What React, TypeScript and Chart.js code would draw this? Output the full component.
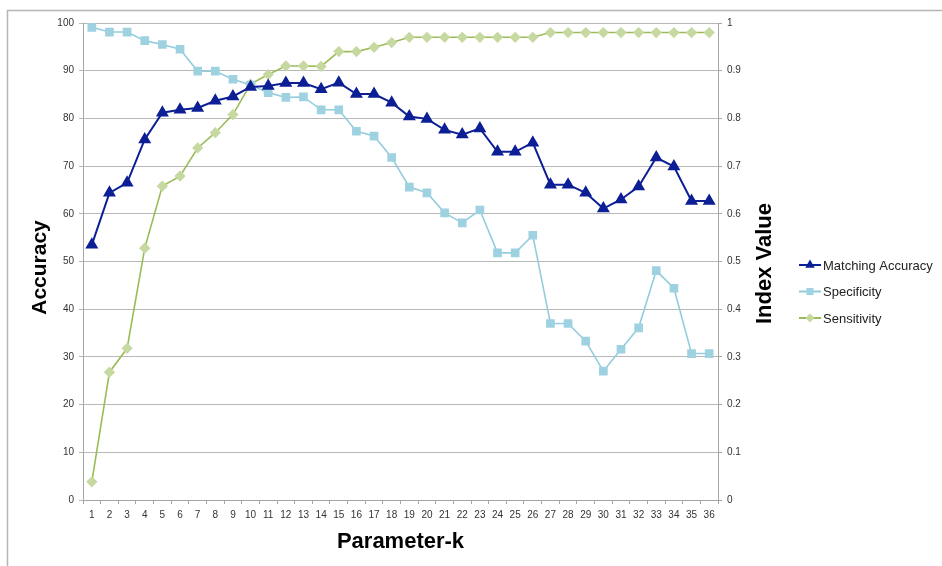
import React, { useEffect, useRef } from "react";
import { Chart, registerables } from "chart.js";

Chart.register(...registerables);

const categories: string[] = Array.from({ length: 36 }, (_, i) => String(i + 1));

const matchingAccuracy: number[] = [
  53.5, 64.4, 66.5, 75.6, 81.2, 81.8, 82.2, 83.7, 84.6, 86.6, 86.8, 87.4,
  87.4, 86.1, 87.5, 85.1, 85.1, 83.3, 80.4, 79.9, 77.6, 76.6, 77.9, 73.0,
  73.0, 74.9, 66.1, 66.1, 64.4, 61.1, 63.0, 65.7, 71.8, 69.9, 62.7, 62.7,
];

const specificity: number[] = [
  0.991, 0.981, 0.981, 0.963, 0.955, 0.945, 0.899, 0.899, 0.882, 0.87, 0.854,
  0.844, 0.845, 0.818, 0.818, 0.773, 0.763, 0.718, 0.656, 0.644, 0.602, 0.581,
  0.608, 0.518, 0.518, 0.555, 0.37, 0.37, 0.333, 0.27, 0.316, 0.361, 0.481,
  0.444, 0.307, 0.307,
];

const sensitivity: number[] = [
  0.038, 0.268, 0.318, 0.528, 0.658, 0.679, 0.738, 0.77, 0.808, 0.872, 0.892,
  0.91, 0.91, 0.909, 0.94, 0.94, 0.949, 0.959, 0.97, 0.97, 0.97, 0.97, 0.97,
  0.97, 0.97, 0.97, 0.98, 0.98, 0.98, 0.98, 0.98, 0.98, 0.98, 0.98, 0.98, 0.98,
];

const leftTitle = "Accuracy";
const rightTitle = "Index Value";
const xTitle = "Parameter-k";

const FONT = "'Liberation Sans', Arial, sans-serif";

function drawMarker(ctx: CanvasRenderingContext2D, style: string, r: number, x: number, y: number) {
  ctx.beginPath();
  if (style === "triangle") {
    ctx.moveTo(x, y - r);
    ctx.lineTo(x + r * 0.866, y + r * 0.5);
    ctx.lineTo(x - r * 0.866, y + r * 0.5);
    ctx.closePath();
  } else if (style === "rect") {
    const s = r * Math.SQRT1_2;
    ctx.rect(x - s, y - s, 2 * s, 2 * s);
  } else {
    ctx.moveTo(x, y - r);
    ctx.lineTo(x + r, y);
    ctx.lineTo(x, y + r);
    ctx.lineTo(x - r, y);
    ctx.closePath();
  }
  ctx.fill();
}

const decorPlugin = {
  id: "decor",
  beforeDraw(chart: any) {
    const ctx = chart.ctx;
    ctx.save();
    ctx.strokeStyle = "#b5b5b5";
    ctx.lineWidth = 1.5;
    ctx.beginPath();
    ctx.moveTo(7.5, 566);
    ctx.lineTo(7.5, 10.5);
    ctx.lineTo(942, 10.5);
    ctx.stroke();
    ctx.restore();
  },
  afterDraw(chart: any) {
    const ctx = chart.ctx;
    const area = chart.chartArea;
    ctx.save();
    ctx.fillStyle = "#000";
    ctx.font = `bold 22px ${FONT}`;
    ctx.textAlign = "center";
    ctx.textBaseline = "middle";
    ctx.fillText(xTitle, (area.left + area.right) / 2, 542);
    ctx.save();
    ctx.font = `bold 21px ${FONT}`;
    ctx.translate(40, (area.top + area.bottom) / 2 + 6);
    ctx.rotate(-Math.PI / 2);
    ctx.fillText(leftTitle, 0, 0);
    ctx.restore();
    ctx.save();
    ctx.translate(765, (area.top + area.bottom) / 2 + 2);
    ctx.rotate(-Math.PI / 2);
    ctx.fillText(rightTitle, 0, 0);
    ctx.restore();

    const items = chart.data.datasets;
    const x0 = 799;
    const yStart = 265;
    const gap = 26.5;
    ctx.font = `13px ${FONT}`;
    ctx.textAlign = "left";
    items.forEach((ds: any, i: number) => {
      const y = yStart + i * gap;
      ctx.strokeStyle = ds.borderColor;
      ctx.lineWidth = 2;
      ctx.beginPath();
      ctx.moveTo(x0, y);
      ctx.lineTo(x0 + 22, y);
      ctx.stroke();
      ctx.fillStyle = ds.pointBackgroundColor;
      drawMarker(ctx, ds.pointStyle, ds.pointRadius, x0 + 11, y);
      ctx.fillStyle = "#222";
      ctx.fillText(ds.label, x0 + 24, y + 1);
    });
    ctx.restore();
  },
};

export default function App() {
  const ref = useRef<HTMLCanvasElement | null>(null);
  useEffect(() => {
    if (!ref.current) return;
    const tickFont = { family: FONT, size: 10 };
    const chart = new Chart(ref.current, {
      type: "line",
      data: {
        labels: categories,
        datasets: [
          {
            label: "Matching Accuracy",
            data: matchingAccuracy,
            yAxisID: "y",
            borderColor: "#0c1f95",
            backgroundColor: "#0c1f95",
            pointBackgroundColor: "#0c1f95",
            pointBorderColor: "#0c1f95",
            pointStyle: "triangle",
            pointRadius: 5.5,
            borderWidth: 2,
            tension: 0,
          },
          {
            label: "Specificity",
            data: specificity,
            yAxisID: "y1",
            borderColor: "#93cddd",
            backgroundColor: "#9fd2e0",
            pointBackgroundColor: "#9fd2e0",
            pointBorderColor: "#9fd2e0",
            pointStyle: "rect",
            pointRadius: 5,
            borderWidth: 1.6,
            tension: 0,
          },
          {
            label: "Sensitivity",
            data: sensitivity,
            yAxisID: "y1",
            borderColor: "#9bbb59",
            backgroundColor: "#c6d9a0",
            pointBackgroundColor: "#c6d9a0",
            pointBorderColor: "#c6d9a0",
            pointStyle: "rectRot",
            pointRadius: 4.5,
            borderWidth: 1.6,
            tension: 0,
          },
        ],
      },
      options: {
        animation: false,
        responsive: false,
        maintainAspectRatio: false,
        layout: { padding: { top: 23, left: 0, right: 184, bottom: 0 } },
        plugins: {
          legend: { display: false },
          tooltip: { enabled: false },
        },
        scales: {
          x: {
            type: "category",
            offset: true,
            grid: {
              drawOnChartArea: false,
              offset: true,
              tickLength: 4,
              color: "#a6a6a6",
            },
            border: { color: "#a6a6a6", width: 1 },
            ticks: {
              font: tickFont,
              color: "#333",
              autoSkip: false,
              maxRotation: 0,
              padding: 5,
            },
            afterFit: (s: any) => {
              s.height = 66;
            },
          },
          y: {
            position: "left",
            min: 0,
            max: 100,
            ticks: { stepSize: 10, font: tickFont, color: "#333", padding: 5 },
            grid: { color: "#b8b8b8", tickLength: 4, lineWidth: 1 },
            border: { color: "#a6a6a6", width: 1 },
            afterFit: (s: any) => {
              s.width = 83;
            },
          },
          y1: {
            position: "right",
            min: 0,
            max: 1,
            ticks: {
              stepSize: 0.1,
              font: tickFont,
              color: "#333",
              padding: 5,
              callback: (v: any) => String(Number(Number(v).toFixed(1))),
            },
            grid: { drawOnChartArea: false, tickLength: 4, color: "#a6a6a6" },
            border: { color: "#a6a6a6", width: 1 },
            afterFit: (s: any) => {
              s.width = 40;
            },
          },
        },
      },
      plugins: [decorPlugin],
    });
    return () => chart.destroy();
  }, []);
  return (
    <div style={{ position: "fixed", left: 0, top: 0, width: 942, height: 566, background: "#fff" }}>
      <canvas ref={ref} width={942} height={566} style={{ width: 942, height: 566, display: "block" }} />
    </div>
  );
}
